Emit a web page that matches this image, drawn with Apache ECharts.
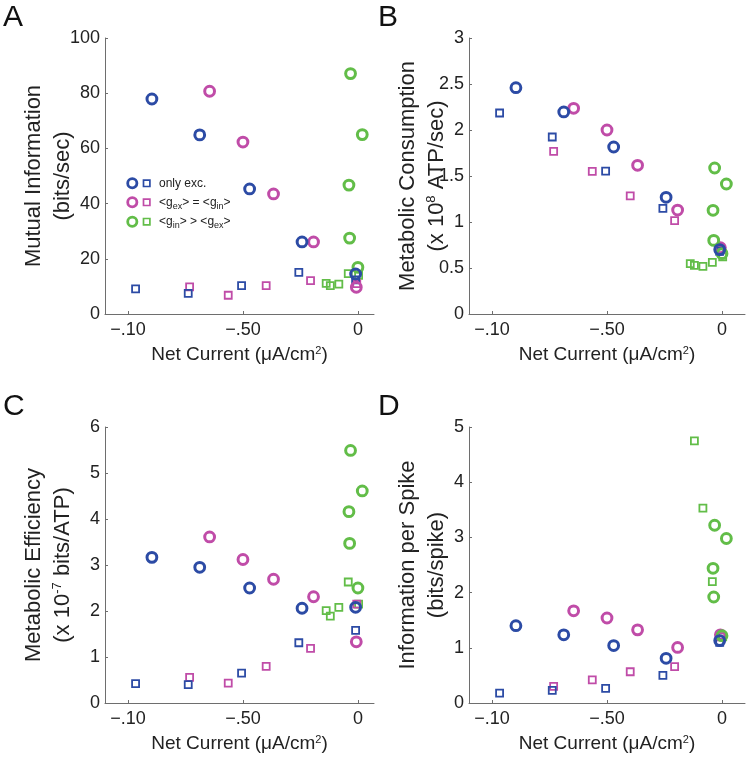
<!DOCTYPE html>
<html>
<head>
<meta charset="utf-8">
<script src="https://cdn.jsdelivr.net/npm/echarts@6/dist/echarts.min.js"></script>
<style>html,body{margin:0;padding:0;background:#fff}#c{width:749px;height:761px}</style>
</head>
<body>
<div id="c"></div>
<script>
// Net current positions (axis units; tick labels shown as in the original figure)
const xBlueC  = [-0.896, -0.688, -0.471, -0.243, -0.010];
const xBlueS  = [-0.967, -0.738, -0.506, -0.257, -0.010];
const xMagC   = [-0.645, -0.500, -0.367, -0.193, -0.007];
const xMagS   = [-0.732, -0.564, -0.399, -0.206, -0.005];
const xGreenC = [-0.032, 0.019, -0.039, -0.036, 0.000];
const xGreenS = [-0.138, -0.120, -0.083, -0.042, 0.003];

const xTickValues = [-1, -0.5, 0];
const xTickLabels = ['\u2212.10', '\u2212.50', '0'];

// A: Mutual Information (bits/sec)
const aBlueC  = [77.9, 64.9, 45.3, 26.1, 14.5];
const aBlueS  = [9.1, 7.5, 10.3, 15.1, 12.4];
const aMagC   = [80.7, 62.3, 43.5, 26.1, 9.7];
const aMagS   = [9.8, 6.8, 10.3, 12.1, 11.0];
const aGreenC = [87.1, 65.0, 46.7, 27.5, 16.9];
const aGreenS = [11.1, 10.3, 10.8, 14.6, 14.0];

// B: Metabolic Consumption (x 10^8 ATP/sec)
const bBlueC  = [2.46, 2.196, 1.815, 1.268, 0.70];
const bBlueS  = [2.185, 1.924, 1.554, 1.149, 0.68];
const bMagC   = [2.236, 2.00, 1.616, 1.13, 0.72];
const bMagS   = [1.768, 1.551, 1.283, 1.014, 0.70];
const bGreenC = [1.587, 1.413, 1.127, 0.80, 0.656];
const bGreenS = [0.547, 0.529, 0.518, 0.562, 0.62];

// C: Metabolic Efficiency (x 10^-7 bits/ATP)
const cBlueC  = [3.166, 2.95, 2.50, 2.06, 2.08];
const cBlueS  = [0.42, 0.40, 0.65, 1.31, 1.58];
const cMagC   = [3.61, 3.12, 2.69, 2.31, 1.33];
const cMagS   = [0.557, 0.434, 0.795, 1.186, 2.15];
const cGreenC = [5.49, 4.61, 4.16, 3.47, 2.50];
const cGreenS = [2.01, 1.89, 2.08, 2.63, 2.15];

// D: Information per Spike (bits/spike)
const dBlueC  = [1.40, 1.235, 1.04, 0.81, 1.13];
const dBlueS  = [0.18, 0.23, 0.265, 0.50, 1.10];
const dMagC   = [1.67, 1.54, 1.325, 1.006, 1.235];
const dMagS   = [0.30, 0.42, 0.566, 0.66, 1.20];
const dGreenC = [3.22, 2.98, 2.44, 1.92, 1.22];
const dGreenS = [null, 4.75, 3.53, 2.20, 1.20];

const BLUE = '#2c4ba5', MAG = '#c04ca8', GREEN = '#62bd48';
const FONT = 'Liberation Sans';

const grids = [
  {left: 105, top: 38, width: 269, height: 276},
  {left: 469, top: 38, width: 276, height: 276},
  {left: 105, top: 427, width: 269, height: 276},
  {left: 469, top: 427, width: 276, height: 276}
];
const xMax = [0.07, 0.1, 0.07, 0.1];
const yMax = [100, 3, 6, 5];
const yInt = [20, 0.5, 1, 1];
const yNames = [
  '{a|Mutual Information}\n{a|(bits/sec)}',
  '{a|Metabolic Consumption}\n{a|(x 10}{sup|8}{a| ATP/sec)}',
  '{a|Metabolic Efficiency}\n{a|(x 10}{sup|-7}{a| bits/ATP)}',
  '{a|Information per Spike}\n{a|(bits/spike)}'
];
const yGaps = [28, 18, 28, 18];

const axisLine = {show: true, onZero: false, lineStyle: {color: '#6e6e6e', width: 1}};
const xAxes = grids.map((g, i) => ({
  gridIndex: i, type: 'value', min: -1.1, max: xMax[i],
  axisLine: axisLine,
  axisTick: {show: true, inside: true, length: 3, customValues: xTickValues, lineStyle: {color: '#6e6e6e'}},
  axisLabel: {customValues: xTickValues, margin: 7, color: '#222', fontSize: 18, fontFamily: FONT,
    formatter: v => { const k = xTickValues.findIndex(t => Math.abs(t - v) < 1e-9); return k >= 0 ? xTickLabels[k] : ''; }},
  splitLine: {show: false},
  name: '{a|Net Current (\u03bcA/cm}{sup|2}{a|)}',
  nameLocation: 'middle', nameGap: 31, nameMoveOverlap: false,
  nameTextStyle: {rich: {
    a: {fontSize: 19, fontFamily: FONT, color: '#222'},
    sup: {fontSize: 11, fontFamily: FONT, color: '#222', padding: [0, 0, 9, 0]}
  }}
}));
const yAxes = grids.map((g, i) => ({
  gridIndex: i, type: 'value', min: 0, max: yMax[i], interval: yInt[i],
  axisLine: axisLine,
  axisTick: {show: true, inside: true, length: 3, lineStyle: {color: '#6e6e6e'}},
  axisLabel: {margin: 5, color: '#222', fontSize: 18, fontFamily: FONT},
  splitLine: {show: false},
  name: yNames[i], nameLocation: 'middle', nameRotate: 90, nameGap: yGaps[i], nameMoveOverlap: false,
  nameTextStyle: {rich: {
    a: {fontSize: 22, fontFamily: FONT, color: '#222', lineHeight: 29},
    sup: {fontSize: 13, fontFamily: FONT, color: '#222', padding: [0, 0, 10, 0]}
  }}
}));

function pts(xs, ys) {
  const out = [];
  xs.forEach((x, i) => { if (ys[i] !== null && ys[i] !== undefined) out.push([x, ys[i]]); });
  return out;
}
function ser(gi, xs, ys, color, shape) {
  const circ = shape === 'circle';
  return {
    type: 'scatter', xAxisIndex: gi, yAxisIndex: gi,
    symbol: circ ? 'circle' : 'rect', symbolSize: circ ? 9.8 : 7,
    itemStyle: {color: 'rgba(0,0,0,0)', borderColor: color, borderWidth: circ ? 3 : 1.8, opacity: 1},
    emphasis: {disabled: true}, silent: true,
    data: pts(xs, ys), z: circ ? 3 : 2
  };
}
const panels = [
  [aBlueC, aBlueS, aMagC, aMagS, aGreenC, aGreenS],
  [bBlueC, bBlueS, bMagC, bMagS, bGreenC, bGreenS],
  [cBlueC, cBlueS, cMagC, cMagS, cGreenC, cGreenS],
  [dBlueC, dBlueS, dMagC, dMagS, dGreenC, dGreenS]
];
const series = [];
panels.forEach((p, gi) => {
  series.push(ser(gi, xGreenS, p[5], GREEN, 'rect'));
  series.push(ser(gi, xMagS, p[3], MAG, 'rect'));
  series.push(ser(gi, xBlueS, p[1], BLUE, 'rect'));
  series.push(ser(gi, xMagC, p[2], MAG, 'circle'));
  series.push(ser(gi, xGreenC, p[4], GREEN, 'circle'));
  series.push(ser(gi, xBlueC, p[0], BLUE, 'circle'));
});

// Panel letters and legend
const letters = [['A', 3, 3], ['B', 378, 3], ['C', 3, 392], ['D', 378, 392]];
const graphic = letters.map(l => ({type: 'text', left: l[1], top: l[2],
  style: {text: l[0], fontSize: 30, fontFamily: FONT, fill: '#111'}}));
const legendRows = [
  {color: BLUE, y: 183.3, text: '{n|only exc.}'},
  {color: MAG, y: 202.3, text: '{n|<g}{s|ex}{n|> = <g}{s|in}{n|>}'},
  {color: GREEN, y: 221.7, text: '{n|<g}{s|in}{n|> > <g}{s|ex}{n|>}'}
];
legendRows.forEach(r => {
  graphic.push({type: 'circle', shape: {cx: 132.3, cy: r.y, r: 4.6},
    style: {fill: 'none', stroke: r.color, lineWidth: 2.8}});
  graphic.push({type: 'rect', shape: {x: 146.7 - 3.2, y: r.y - 3.2, width: 6.4, height: 6.4},
    style: {fill: 'none', stroke: r.color, lineWidth: 1.7}});
  graphic.push({type: 'text', x: 159, y: r.y,
    style: {text: r.text, verticalAlign: 'middle', align: 'left',
      rich: {n: {fontSize: 12, fontFamily: FONT, fill: '#222'},
             s: {fontSize: 9, fontFamily: FONT, fill: '#222', padding: [8, 0, 0, 0]}}}});
});

const chart = echarts.init(document.getElementById('c'), null, {renderer: 'canvas'});
chart.setOption({
  animation: false,
  backgroundColor: '#fff',
  grid: grids.map(g => Object.assign({containLabel: false}, g)),
  xAxis: xAxes, yAxis: yAxes, series: series, graphic: graphic
});
</script>
</body>
</html>
